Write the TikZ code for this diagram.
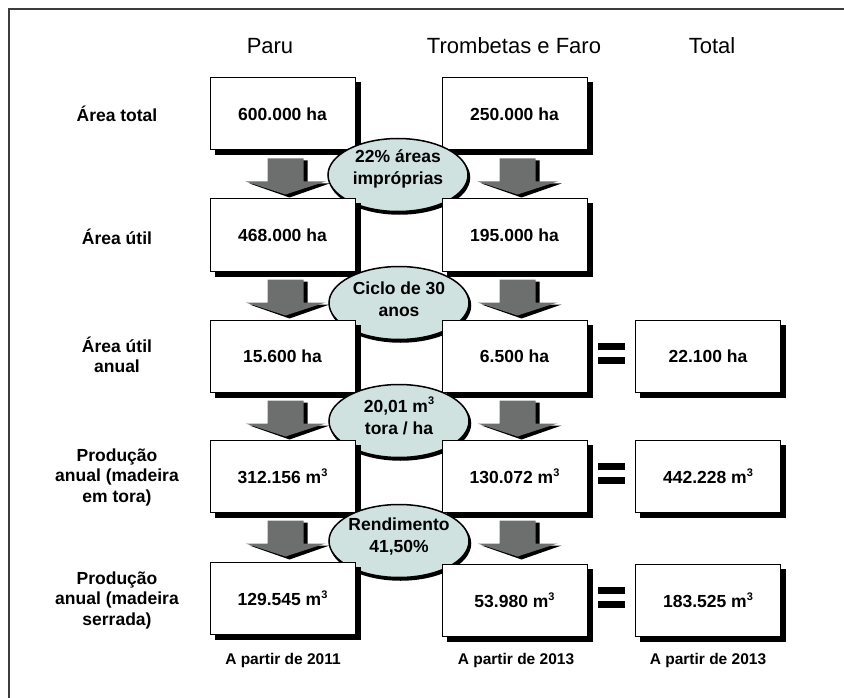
\documentclass[tikz,border=0pt]{standalone}
\usepackage{fontspec}
\setmainfont{Liberation Sans}
\usetikzlibrary{shapes.geometric,calc}
\definecolor{ellfill}{RGB}{207,226,224}
\definecolor{arrgray}{RGB}{109,111,111}
\definecolor{framegray}{RGB}{60,60,60}
\newcommand{\cubed}{\raisebox{0.42em}{\fontsize{11}{11}\selectfont 3}}
\newcommand{\blkarrow}[1]{%
  \begin{scope}[shift={($(#1.south)+(3,0)$)}]
    \fill[black] (-14,10) -- (22,10) -- (22,33) -- (44,33) -- (4,47) -- (-36,33) -- (-14,33) -- cycle;
    \fill[arrgray] (-18,8) -- (18,8) -- (18,31) -- (40,31) -- (0,44) -- (-40,31) -- (-18,31) -- cycle;
  \end{scope}}
\newcommand{\eqbars}[2]{%
  \begin{scope}[shift={($(#1.east)!0.5!(#2.west)+(0,-3)$)}]
    \fill[black] (-13.5,-10.5) rectangle (13.5,-3.5);
    \fill[black] (-13.5,3.5) rectangle (13.5,10.5);
  \end{scope}}
\begin{document}
\begin{tikzpicture}[x=1pt,y=-1pt,
  valbox/.style={draw, line width=1pt, fill=white, minimum width=145pt, minimum height=72pt, inner sep=0pt,
    font=\fontsize{17.5}{20.5}\selectfont\bfseries,
    preaction={fill=black, draw=black, transform canvas={xshift=5pt, yshift=-5pt}}},
  rowlabel/.style={align=center, font=\fontsize{17.5}{20.5}\selectfont\bfseries},
  colhead/.style={font=\fontsize{22}{26}\selectfont},
  ell/.style={ellipse, draw, line width=1.5pt, fill=ellfill, minimum width=140pt, minimum height=73pt, inner sep=0pt,
    preaction={fill=black, draw=black, transform canvas={xshift=1.5pt, yshift=-2.5pt}}},
  elltext/.style={align=center, font=\fontsize{17.5}{22}\selectfont\bfseries},
  foot/.style={font=\fontsize{15.5}{18}\selectfont\bfseries}]
\useasboundingbox (0,0) rectangle (844,698);
\draw[framegray, line width=2pt] (844,9) -- (9,9) -- (9,698);

% headers
\node[colhead] (h1) at (270,46) {Paru};
\node[colhead] (h2) at (514,46) {Trombetas e Faro};
\node[colhead] (h3) at (712,46) {Total};

% row labels
\node[rowlabel] (l1) at (117,114) {Área total};
\node[rowlabel] (l2) at (117,237) {Área útil};
\node[rowlabel] (l3) at (117,355) {Área útil\\anual};
\node[rowlabel] (l4) at (117,477) {Produção\\anual (madeira\\em tora)};
\node[rowlabel] (l5) at (117,600) {Produção\\anual (madeira\\serrada)};

% row 1
\node[valbox] (p1) at (282.5,114) {600.000 ha};
\node[valbox] (t1) at (514.5,114) {250.000 ha};
\blkarrow{p1}
\blkarrow{t1}
\node[ell] (e1) at (398,175) {};
\node[elltext] (x1) at ($(e1.center)+(0,-6)$) {22\% áreas\\impróprias};

% row 2
\node[valbox] (p2) at (282.5,235) {468.000 ha};
\node[valbox] (t2) at (514.5,235) {195.000 ha};
\blkarrow{p2}
\blkarrow{t2}
\node[ell] (e2) at (399,303) {};
\node[elltext] (x2) at ($(e2.center)+(0,-4)$) {Ciclo de 30\\anos};

% row 3
\node[valbox] (p3) at (282.5,356) {15.600 ha};
\node[valbox] (t3) at (514.5,356) {6.500 ha};
\node[valbox] (s3) at (708,356) {22.100 ha};
\eqbars{t3}{s3}
\blkarrow{p3}
\blkarrow{t3}
\node[ell] (e3) at (399,421) {};
\node[elltext] (x3) at ($(e3.center)+(0,-5)$) {20,01 m\cubed\\tora / ha};

% row 4
\node[valbox] (p4) at (282.5,476) {312.156 m\cubed};
\node[valbox] (t4) at (514.5,476) {130.072 m\cubed};
\node[valbox] (s4) at (708,476) {442.228 m\cubed};
\eqbars{t4}{s4}
\blkarrow{p4}
\blkarrow{t4}
\node[ell] (e4) at (399,541) {};
\node[elltext] (x4) at ($(e4.center)+(0,-4)$) {Rendimento\\41,50\%};

% row 5
\node[valbox] (p5) at (282.5,598) {129.545 m\cubed};
\node[valbox] (t5) at (514.5,600) {53.980 m\cubed};
\node[valbox] (s5) at (708,600) {183.525 m\cubed};
\eqbars{t5}{s5}

% footers
\node[foot] (f1) at (283,660) {A partir de 2011};
\node[foot] (f2) at (516,660) {A partir de 2013};
\node[foot] (f3) at (708,660) {A partir de 2013};
\end{tikzpicture}
\end{document}
